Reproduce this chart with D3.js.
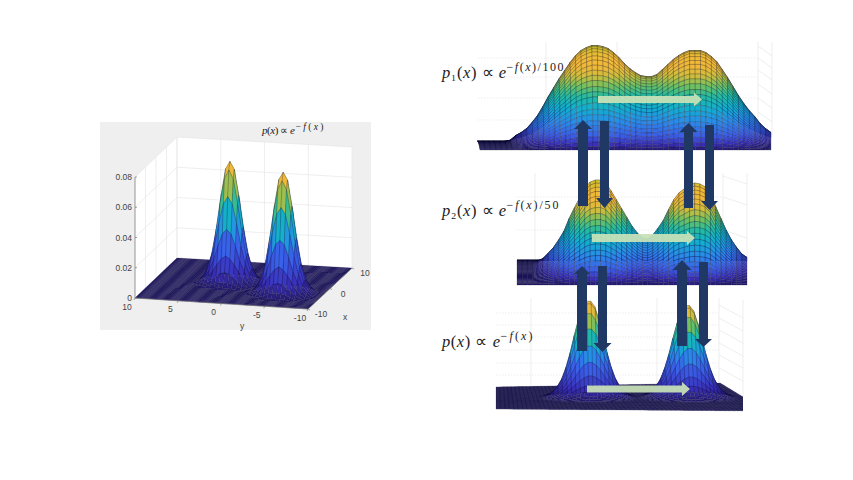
<!DOCTYPE html>
<html><head><meta charset="utf-8">
<script src="https://cdn.jsdelivr.net/npm/d3@7/dist/d3.min.js"></script>
<style>html,body{margin:0;background:#fff}svg{display:block}</style></head>
<body><svg id="c" width="853" height="480"></svg>
<script>
// ---------- values ----------
const zTicks = [0, 0.02, 0.04, 0.06, 0.08];
const zTickLabels = ["0", "0.02", "0.04", "0.06", "0.08"];
const yTicks = [10, 5, 0, -5, -10];
const xTicks = [-10, 0, 10];
// density of one mode of p(x) against distance from its centre
const modeDistance = [0, 0.3, 0.6, 0.9, 1.2, 1.5, 1.8, 2.1, 2.4, 2.7, 3.0, 3.5, 4, 30];
const modeDensity = [0.080, 0.079, 0.073, 0.062, 0.050, 0.037, 0.026, 0.017, 0.011, 0.007, 0.004, 0.001, 0, 0];
// mode centres (position across the floor, position in depth)
const leftPeakAcross = [-1.5, 5.5];
const leftPeakDepth = [0, -3.5];
const leftPeakScale = [1, 1];
const lowPeakAcross = [-2.5, 5.5];
const lowPeakDepth = [0, 0];
const lowPeakScale = [1, 0.95];
// tempered densities along the width of the surface (relative height)
const p1Across = [0,0,0,0,0,0,1,6,9,13,19,26,35,45,54,63,71,79,86,91,94,96,96,95,93,89,84,78,73,69,66,65,65,67,72,77,82,86,89,91,91,91,89,85,80,72,64,55,46,38,31,25,18,13,9];
const p1Along = [0,.03,.07,.12,.17,.22,.27,.33,.38,.44,.5,.55,.6,.66,.71,.76,.81,.86,.9,.94,.97,.99,1,1,.98,.95,.9,.82,.7,.55,.4];
const p2Across = [0,0,0,0,3,7,13,19,27,36,49,60,70,80,86,88,88,85,77,68,59,50,41,34,29,28,32,39,47,58,68,75,79,83,85,84,81,74,61,49,37,27,19,12,8];
const p2Along = [0,.03,.07,.11,.16,.21,.26,.31,.37,.43,.49,.55,.61,.67,.73,.79,.84,.89,.93,.97,1,.98,.95,.9,.84,.76,.67,.57,.47,.37,.28,.2,.14,.09,.05,.03,.01,0,0,0,0];
// colour map
const cmapAt = [0, .05, .13, .25, .38, .5, .6, .7, .8, .9, 1];
const cmapColors = ["#231a6b","#3a2fb8","#3a5fe8","#2a8ae8","#12aed0","#25bb9f","#70c060","#d0bd3c","#f2b83a","#eebb35","#c9c02a"];
const sharpFraction = [0, .36, .61, .75, 1];
const sharpColourAt = [0, .15, .45, .6, .85];
// labels
const titleMain = ["p(x) \u221D e", "p\u2081(x) \u221D e", "p\u2082(x) \u221D e", "p(x) \u221D e"];
const titleSup = ["\u2212f(x)", "\u2212f(x)/100", "\u2212f(x)/50", "\u2212f(x)"];

// ---------- layout ----------
const svg = d3.select("#c");
const color = d3.scaleLinear().domain(cmapAt).range(cmapColors).clamp(true);
const sharpColour = d3.scaleLinear().domain(sharpFraction).range(sharpColourAt).clamp(true);
const modeProfile = d3.scaleLinear().domain(modeDistance).range(modeDensity).clamp(true);
const poly = d3.line().curve(d3.curveLinearClosed);
const wallGrid = "#e6e6e6";

function drawCells(g, cells, sw) {
  g.selectAll("path").data(cells).join("path")
    .attr("d", d => poly(d.pts))
    .attr("fill", d => color(d.t))
    .attr("stroke", "#0a0a2a").attr("stroke-opacity", 0.48).attr("stroke-width", sw);
}
function radialSurface(g, corners, peakA, peakB, peakScale, zPx, n, sw) {
  const [L, F, R, B] = corners;
  const domainVals = d3.range(n + 1).map(i => -10 + 20 * i / n);
  const t = d3.scaleLinear().domain([-10, 10]).range([0, 1]);
  const floor = (a, b) => {
    const u = t(a), v = t(b);
    const fx = L[0]*(1-u)*(1-v)+F[0]*u*(1-v)+R[0]*u*v+B[0]*(1-u)*v;
    const fy = L[1]*(1-u)*(1-v)+F[1]*u*(1-v)+R[1]*u*v+B[1]*(1-u)*v;
    return [fx, fy];
  };
  const z = (a, b) => d3.sum(peakA, (pa, k) => peakScale[k] * modeProfile(Math.hypot(a - pa, b - peakB[k])));
  const pt = (a, b) => { const f = floor(a, b); return [f[0], f[1] - zPx(z(a, b))]; };
  const cells = [];
  for (let i = 0; i < n; i++) for (let j = 0; j < n; j++) {
    const a0 = domainVals[i], a1 = domainVals[i+1], b0 = domainVals[j], b1 = domainVals[j+1];
    const mz = (z(a0,b0)+z(a1,b0)+z(a1,b1)+z(a0,b1))/4;
    cells.push({pts:[pt(a0,b0),pt(a1,b0),pt(a1,b1),pt(a0,b1)], t: sharpColour(mz/0.08), depth: floor((a0+a1)/2,(b0+b1)/2)[1]});
  }
  cells.sort((p,q)=>d3.ascending(p.depth,q.depth));
  drawCells(g, cells, sw);
}
function tensorSurface(g, across, along, x0, x1, yFront, depth, skew, k) {
  const xs = d3.scaleLinear().domain([0, across.length-1]).range([x0, x1]);
  const rs = d3.scaleLinear().domain([0, along.length-1]).range([0, 1]);
  const zPx = d3.scaleLinear().domain([0, 100]).range([0, 100*k]);
  const maxZ = d3.max(across);
  const pt = (i,j) => { const r = rs(j); const off = depth*(1-(1-r)*(1-r));
    return [xs(i)-skew*r*(1-i/(across.length-1)), yFront-off-zPx(across[i]*along[j])]; };
  const cells = [];
  for (let j = along.length-2; j >= 0; j--) for (let i = 0; i < across.length-1; i++) {
    const mz = (across[i]*along[j]+across[i+1]*along[j]+across[i+1]*along[j+1]+across[i]*along[j+1])/4;
    cells.push({pts:[pt(i,j),pt(i+1,j),pt(i+1,j+1),pt(i,j+1)], t: mz/maxZ});
  }
  drawCells(g, cells, 0.45);
}
function mathText(g, s, x, y, size, width) {
  const t = g.append("text").attr("x",x).attr("y",y).attr("font-size",size)
    .attr("textLength",width).attr("lengthAdjust","spacing");
  t.selectAll("tspan").data(Array.from(s)).join("tspan")
    .attr("font-style", c => "pxef".includes(c) ? "italic" : "normal").text(c => c);
}
function label(i, x, y, wm, ws, fs, sfs, rise) {
  const base = svg.append("g").attr("font-family", "'Liberation Serif',serif").attr("fill","#222").attr("xml:space","preserve").style("white-space","pre");
  mathText(base, titleMain[i], x, y, fs, wm);
  mathText(base, titleSup[i], x+wm+0.5, y-rise, sfs, ws);
}

// ---------- left chart ----------
svg.append("rect").attr("x",100).attr("y",122).attr("width",271).attr("height",208).attr("fill","#efefef");
const L=[135,298],F=[308,309],R=[352,268],B=[177,258];
const zL = d3.scaleLinear().domain([0,0.08]).range([0,121]);
const up = (p,v)=>[p[0],p[1]-zL(v)];
const lw = svg.append("g");
lw.append("path").attr("d",poly([L,B,up(B,.08),up(L,.08)])).attr("fill","#fff");
lw.append("path").attr("d",poly([B,R,up(R,.08),up(B,.08)])).attr("fill","#fff");
const gridLeft = lw.append("g").attr("stroke",wallGrid).attr("stroke-width",.7);
zTicks.slice(1).forEach(v=>{
  const a=up(L,v),b=up(B,v),c=up(R,v);
  gridLeft.append("path").attr("d",d3.line()([a,b,c])).attr("fill","none");
});
const lerp=(a,b,t)=>[a[0]+(b[0]-a[0])*t,a[1]+(b[1]-a[1])*t];
const yPos = d3.scaleLinear().domain([10,-10]).range([0,1]);
const xPos = d3.scaleLinear().domain([-10,10]).range([0,1]);
yTicks.forEach(v=>{ const p=lerp(B,R,yPos(v)); gridLeft.append("line").attr("x1",p[0]).attr("y1",p[1]).attr("x2",p[0]).attr("y2",up(p,.08)[1]); });
xTicks.concat([-5,5]).forEach(v=>{ const p=lerp(L,B,xPos(v)); gridLeft.append("line").attr("x1",p[0]).attr("y1",p[1]).attr("x2",p[0]).attr("y2",up(p,.08)[1]); });
radialSurface(svg.append("g"), [L,F,R,B], leftPeakAcross, leftPeakDepth, leftPeakScale, zL, 40, 0.4);
const ax = svg.append("g").attr("stroke","#777").attr("stroke-width",.7).attr("fill","none");
ax.append("path").attr("d",d3.line()([up(L,.08),L,F,R]));
const tx = svg.append("g").attr("font-family","'Liberation Sans',Arial,sans-serif").attr("font-size",8.5).attr("fill","#444");
zTicks.forEach((v,i)=>{ const p=up(L,v);
  ax.append("line").attr("x1",p[0]).attr("y1",p[1]).attr("x2",p[0]+2).attr("y2",p[1]);
  tx.append("text").attr("x",132).attr("y",p[1]+3).attr("text-anchor","end").text(zTickLabels[i]); });
yTicks.forEach(v=>{ const p=lerp(L,F,yPos(v));
  ax.append("line").attr("x1",p[0]).attr("y1",p[1]).attr("x2",p[0]-1).attr("y2",p[1]+2);
  tx.append("text").attr("x",p[0]-8).attr("y",p[1]+11.5).attr("text-anchor","middle").text(v); });
xTicks.forEach(v=>{ const p=lerp(F,R,xPos(v));
  ax.append("line").attr("x1",p[0]).attr("y1",p[1]).attr("x2",p[0]+2).attr("y2",p[1]+1);
  tx.append("text").attr("x",p[0]+13).attr("y",p[1]+8).attr("text-anchor","middle").text(v); });
tx.append("text").attr("x",242).attr("y",329).attr("text-anchor","middle").text("y");
tx.append("text").attr("x",345).attr("y",320).attr("text-anchor","middle").text("x");
label(0, 262, 134, 33, 28, 11, 9.5, 4.5);

// ---------- right column: walls ----------
const walls = svg.append("g").attr("stroke",wallGrid).attr("stroke-width",.7).attr("fill","none");
function hl(x1,x2,ys,dash){ ys.forEach(y=>walls.append("line").attr("x1",x1).attr("x2",x2).attr("y1",y).attr("y2",y).attr("stroke-dasharray",dash||null)); }
function vl(xs,y1,y2){ xs.forEach(x=>walls.append("line").attr("x1",x).attr("x2",x).attr("y1",y1).attr("y2",y2)); }
vl([546,617],42,145); hl(478,758,[58,77,98,120],"1.5 1.5"); vl([758,772],42,135);
[46,58,70,84,98,112].forEach(y=>walls.append("line").attr("x1",758).attr("y1",y).attr("x2",772).attr("y2",y+10));
vl([535,723,747],173,262); hl(516,723,[197,230],"1.5 1.5");
[176,197,230].forEach(y=>walls.append("line").attr("x1",723).attr("y1",y).attr("x2",747).attr("y2",y+8));
vl([531,657,719],298,385); hl(496,719,[313,325,337,350,363,375],"1.5 1.5");
[305,318,330,343,355,368].forEach(y=>walls.append("line").attr("x1",719).attr("y1",y).attr("x2",743).attr("y2",y+13));
vl([743],300,397);

// ---------- right column: surfaces ----------
tensorSurface(svg.append("g"), p1Across, p1Along, 480, 771, 150, 9, 3, 1);
tensorSurface(svg.append("g"), p2Across, p2Along, 517, 747, 285, 25, 0, 0.98);
svg.append("clipPath").attr("id","clip3").append("rect").attr("x",490).attr("y",290).attr("width",253).attr("height",130);
const zLow = d3.scaleLinear().domain([0,0.08]).range([0,97]);
radialSurface(svg.append("g").attr("clip-path","url(#clip3)"), [[496,409],[766,411],[720,383],[496,387]], lowPeakAcross, lowPeakDepth, lowPeakScale, zLow, 60, 0.4);

// ---------- arrows ----------
const navyArrows = [
 {x:583, w:5, hw:9, from:206, to:120, head:9},
 {x:604.5, w:4.5, hw:8.5, from:121, to:208, head:10},
 {x:688.5, w:4.5, hw:9, from:208, to:123, head:9},
 {x:709.5, w:4.5, hw:8.5, from:125, to:210, head:9},
 {x:582, w:5, hw:8, from:351, to:266, head:8},
 {x:602.5, w:4.5, hw:9, from:266, to:352, head:9},
 {x:682, w:5, hw:9.5, from:346, to:260, head:10},
 {x:703.5, w:4.5, hw:8.5, from:262, to:347, head:8},
];
const greenArrows = [
 {y:99.5, w:3.5, hw:7, from:598, to:702, head:8},
 {y:238, w:4, hw:7, from:592, to:695, head:8},
 {y:389, w:3.5, hw:7, from:587, to:690, head:8},
];
const ga = svg.append("g");
ga.selectAll("path.n").data(navyArrows).join("path").attr("class","n").attr("fill","#1f3864")
  .attr("d",a=>{const s=Math.sign(a.to-a.from),b=a.to-s*a.head;return poly([[a.x-a.w,a.from],[a.x-a.w,b],[a.x-a.hw,b],[a.x,a.to],[a.x+a.hw,b],[a.x+a.w,b],[a.x+a.w,a.from]]);});
ga.selectAll("path.g").data(greenArrows).join("path").attr("class","g").attr("fill","#c8e2b8").attr("fill-opacity",.93)
  .attr("d",a=>{const b=a.to-a.head;return poly([[a.from,a.y-a.w],[b,a.y-a.w],[b,a.y-a.hw],[a.to,a.y],[b,a.y+a.hw],[b,a.y+a.w],[a.from,a.y+a.w]]);});

label(1, 442, 78, 64, 57, 16.5, 12, 7);
label(2, 442, 216, 64, 52, 16.5, 12, 7);
label(3, 442, 347, 58, 32, 16.5, 12, 7);
</script></body></html>
